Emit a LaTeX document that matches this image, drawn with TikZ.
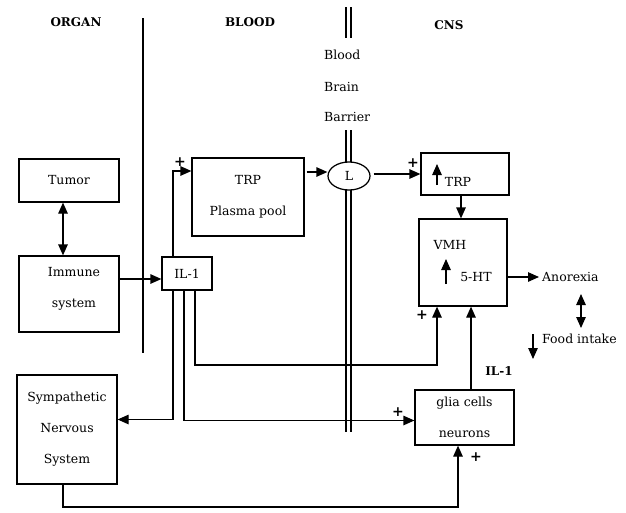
\documentclass[tikz,border=0pt]{standalone}
\usepackage{fontspec}
\setmainfont{DejaVu Serif}
\usetikzlibrary{arrows.meta,shapes.geometric}
\begin{document}
\begin{tikzpicture}[x=1pt,y=-1pt,
  box/.style={draw, line width=1.25pt, inner sep=0pt, align=center, font=\fontsize{12.5}{31}\selectfont},
  arr/.style={line width=1.25pt, -{Triangle[length=11pt,width=9.5pt]}},
  darr/.style={line width=1.25pt, {Triangle[length=11pt,width=9.5pt]}-{Triangle[length=11pt,width=9.5pt]}},
  ln/.style={line width=1.25pt},
  txt/.style={font=\fontsize{12.5}{15}\selectfont, inner sep=0pt},
  hdr/.style={font=\bfseries\fontsize{12}{14}\selectfont, inner sep=0pt},
  plus/.style={font=\bfseries\fontsize{14}{16}\selectfont, inner sep=0pt}]
\useasboundingbox (0,0) rectangle (626,512);
% separators
\coordinate (sepT) at (143,18); \coordinate (sepB) at (143,353);
\draw[ln] (sepT) -- (sepB);
\coordinate (ba1) at (346,7); \coordinate (ba2) at (346,38);
\coordinate (ba3) at (346,130); \coordinate (ba4) at (346,432);
\coordinate (bb1) at (351,7); \coordinate (bb2) at (351,38);
\coordinate (bb3) at (351,130); \coordinate (bb4) at (351,432);
\draw[ln] (ba1) -- (ba2); \draw[ln] (bb1) -- (bb2);
\draw[ln] (ba3) -- (ba4); \draw[ln] (bb3) -- (bb4);
% headers
\node[hdr] (organ) at (76,22) {ORGAN};
\node[hdr] (blood) at (250,22) {BLOOD};
\node[hdr] (cns) at (449,25) {CNS};
\node[hdr] (il1b) at (499,371) {IL-1};
\node[txt, anchor=west] (bbbA) at (324,55) {Blood};
\node[txt, anchor=west] (bbbB) at (324,87) {Brain};
\node[txt, anchor=west] (bbbC) at (324,117) {Barrier};
% boxes
\node[box, minimum width=100pt, minimum height=43pt] (tumor) at (69,180.5) {Tumor};
\node[box, minimum width=100pt, minimum height=76pt] (immune) at (69,294) {};
\node[box, draw=none] (immunetxt) at (74,288.5) {Immune\\system};
\node[box, minimum width=50pt, minimum height=33pt] (il1) at (187,273.5) {IL-1};
\node[box, minimum width=112pt, minimum height=78pt] (trp) at (248,197) {TRP\\Plasma pool};
\node[draw, ellipse, line width=1.25pt, fill=white, minimum width=42pt, minimum height=28pt, inner sep=0pt, font=\fontsize{12.5}{15}\selectfont] (L) at (349,176) {L};
\node[box, minimum width=88pt, minimum height=42pt] (ctrp) at (465,174) {};
\node[txt] (ctrptxt) at (458,182) {TRP};
\node[box, minimum width=88pt, minimum height=87pt] (vmh) at (463,262.5) {};
\node[txt] (vmhtxt) at (450,245) {VMH};
\node[txt] (ht) at (476,277) {5-HT};
\node[box, minimum width=99pt, minimum height=55pt] (glia) at (464.5,417.5) {glia cells\\neurons};
\node[box, minimum width=100pt, minimum height=109pt] (symp) at (67,429.5) {Sympathetic\\Nervous\\System};
\node[txt, anchor=west] (anorexia) at (542,277) {Anorexia};
\node[txt, anchor=west] (food) at (542,339) {Food intake};
% plus signs
\node[plus] (p1) at (180,162) {+};
\node[plus] (p2) at (413,163) {+};
\node[plus] (p3) at (422,315) {+};
\node[plus] (p4) at (398,412) {+};
\node[plus] (p5) at (476,457) {+};
% free arrows
\coordinate (ua1) at (437,185); \coordinate (ua1e) at (437,164);
\draw[arr] (ua1) -- (ua1e);
\coordinate (ua2) at (446,284); \coordinate (ua2e) at (446,259);
\draw[arr] (ua2) -- (ua2e);
\coordinate (da1) at (581,294); \coordinate (da1e) at (581,328);
\draw[darr] (da1) -- (da1e);
\coordinate (dn1) at (533,334); \coordinate (dn1e) at (533,359);
\draw[arr] (dn1) -- (dn1e);
% connectors
\draw[darr] ([xshift=-6pt]tumor.south) -- ([xshift=-6pt]immune.north);
\coordinate (im1) at ([yshift=15pt]immune.east);
\draw[arr] (im1) -- (im1 -| il1.west);
\draw[arr] ([xshift=-14pt]il1.north) |- ([yshift=26pt]trp.west);
\coordinate (tr1) at ([xshift=2pt,yshift=25pt]trp.east);
\draw[arr] (tr1) -- (tr1 -| L.west);
\draw[arr, shorten <=3pt] (L.east |- ctrp.west) -- (ctrp.west);
\coordinate (ct1) at ([xshift=-4pt]ctrp.south);
\draw[arr] (ct1) -- (ct1 |- vmh.north);
\draw[arr] (vmh.east |- anorexia.west) -- ([xshift=-3pt]anorexia.west);
\coordinate (k1) at (437,365);
\draw[arr] ([xshift=8pt]il1.south) |- (k1) -- (k1 |- vmh.south);
\coordinate (g1) at ([yshift=-3pt]glia.west);
\draw[arr] ([xshift=-3pt]il1.south) |- (g1);
\coordinate (s1) at ([yshift=10pt]symp.east);
\draw[arr] ([xshift=-14pt]il1.south) |- (s1);
\coordinate (g2) at ([xshift=6.5pt]glia.north);
\draw[arr] (g2) -- (g2 |- vmh.south);
\coordinate (k2) at (458,507);
\draw[arr] ([xshift=-4pt]symp.south) |- (k2) -- (k2 |- glia.south);
\end{tikzpicture}
\end{document}
